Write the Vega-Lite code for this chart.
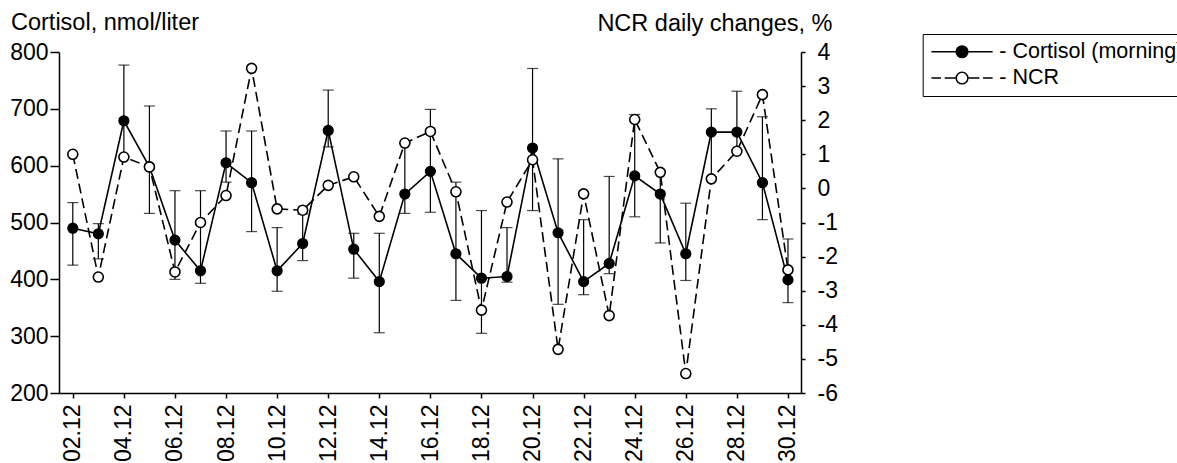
{
  "$schema": "https://vega.github.io/schema/vega-lite/v6.json",
  "width": 742,
  "height": 341,
  "autosize": {"type": "none"},
  "padding": {"left": 59, "top": 52, "right": 376, "bottom": 70},
  "background": "white",
  "config": {
    "view": {"stroke": null},
    "font": "Liberation Sans",
    "axis": {
      "grid": false,
      "domainColor": "black",
      "tickColor": "black",
      "labelColor": "black",
      "titleColor": "black",
      "labelFont": "Liberation Sans",
      "titleFont": "Liberation Sans",
      "labelFontSize": 23,
      "titleFontSize": 23.5,
      "titleFontWeight": "normal",
      "domainWidth": 1.5,
      "tickWidth": 1.5,
      "labelFlush": false,
      "labelOverlap": false
    }
  },
  "data": {
    "values": [
      {"day": 2, "cort": 490, "lo": 425, "hi": 535, "ncr": 1.0},
      {"day": 3, "cort": 480, "lo": 436, "hi": 498, "ncr": -2.6},
      {"day": 4, "cort": 679, "lo": 615, "hi": 777, "ncr": 0.92},
      {"day": 5, "cort": 598, "lo": 516, "hi": 705, "ncr": 0.63},
      {"day": 6, "cort": 469, "lo": 400, "hi": 556, "ncr": -2.45},
      {"day": 7, "cort": 415, "lo": 393, "hi": 556, "ncr": -1.0},
      {"day": 8, "cort": 605, "lo": 571, "hi": 661, "ncr": -0.21},
      {"day": 9, "cort": 570, "lo": 484, "hi": 661, "ncr": 3.52},
      {"day": 10, "cort": 415, "lo": 379, "hi": 491, "ncr": -0.6},
      {"day": 11, "cort": 463, "lo": 433, "hi": 515, "ncr": -0.64},
      {"day": 12, "cort": 662, "lo": 633, "hi": 733, "ncr": 0.09},
      {"day": 13, "cort": 453, "lo": 402, "hi": 481, "ncr": 0.34},
      {"day": 14, "cort": 396, "lo": 306, "hi": 481, "ncr": -0.82},
      {"day": 15, "cort": 550, "lo": 516, "hi": 640, "ncr": 1.33},
      {"day": 16, "cort": 590, "lo": 518, "hi": 699, "ncr": 1.67},
      {"day": 17, "cort": 445, "lo": 363, "hi": 571, "ncr": -0.1},
      {"day": 18, "cort": 402, "lo": 305, "hi": 521, "ncr": -3.57},
      {"day": 19, "cort": 405, "lo": 395, "hi": 491, "ncr": -0.4},
      {"day": 20, "cort": 631, "lo": 521, "hi": 771, "ncr": 0.84},
      {"day": 21, "cort": 482, "lo": 356, "hi": 612, "ncr": -4.72},
      {"day": 22, "cort": 396, "lo": 373, "hi": 505, "ncr": -0.16},
      {"day": 23, "cort": 428, "lo": 410, "hi": 581, "ncr": -3.73},
      {"day": 24, "cort": 582, "lo": 510, "hi": 690, "ncr": 2.02},
      {"day": 25, "cort": 550, "lo": 464, "hi": 590, "ncr": 0.47},
      {"day": 26, "cort": 445, "lo": 398, "hi": 534, "ncr": -5.43},
      {"day": 27, "cort": 659, "lo": 580, "hi": 700, "ncr": 0.28},
      {"day": 28, "cort": 659, "lo": 628, "hi": 731, "ncr": 1.09},
      {"day": 29, "cort": 570, "lo": 505, "hi": 686, "ncr": 2.75},
      {"day": 30, "cort": 399, "lo": 359, "hi": 471, "ncr": -2.39}
    ]
  },
  "encoding": {
    "x": {
      "field": "day",
      "type": "quantitative",
      "scale": {"domain": [1.46, 30.51], "nice": false, "zero": false},
      "axis": {
        "title": null,
        "values": [2, 4, 6, 8, 10, 12, 14, 16, 18, 20, 22, 24, 26, 28, 30],
        "labelExpr": "(datum.value < 10 ? '0' : '') + datum.value + '.12'",
        "labelAngle": -90,
        "tickSize": 5,
        "labelPadding": 6
      }
    }
  },
  "layer": [
    {
      "layer": [
        {
          "mark": {"type": "rule", "color": "black", "strokeWidth": 1.2},
          "encoding": {
            "y": {
              "field": "lo",
              "type": "quantitative",
              "title": "Cortisol, nmol/liter",
              "scale": {"domain": [200, 800], "nice": false, "zero": false},
              "axis": {
                "values": [200, 300, 400, 500, 600, 700, 800],
                "tickSize": 9,
                "labelPadding": 2,
                "titleAngle": 0,
                "titleAlign": "left",
                "titleBaseline": "alphabetic",
                "titleX": -48.5,
                "titleY": -22.7
              }
            },
            "y2": {"field": "hi"}
          }
        },
        {
          "mark": {"type": "tick", "orient": "horizontal", "size": 11, "thickness": 1.2, "color": "black"},
          "encoding": {"y": {"field": "lo", "type": "quantitative", "title": "Cortisol, nmol/liter"}}
        },
        {
          "mark": {"type": "tick", "orient": "horizontal", "size": 11, "thickness": 1.2, "color": "black"},
          "encoding": {"y": {"field": "hi", "type": "quantitative", "title": "Cortisol, nmol/liter"}}
        },
        {
          "mark": {"type": "line", "color": "black", "strokeWidth": 1.6},
          "encoding": {"y": {"field": "cort", "type": "quantitative", "title": "Cortisol, nmol/liter"}}
        },
        {
          "mark": {"type": "point", "filled": true, "size": 100, "stroke": "black", "strokeWidth": 1.2, "opacity": 1},
          "encoding": {
            "y": {"field": "cort", "type": "quantitative", "title": "Cortisol, nmol/liter"},
            "fill": {
              "datum": "Cortisol (morning)",
              "type": "nominal",
              "scale": {"domain": ["Cortisol (morning)", "NCR"], "range": ["black", "white"]},
              "legend": {
                "title": null,
                "orient": "none",
                "legendX": 863.7,
                "legendY": -18,
                "labelExpr": "'- ' + datum.label",
                "labelFont": "Liberation Sans",
                "labelFontSize": 21.5,
                "labelColor": "black",
                "labelLimit": 0,
                "symbolSize": 144,
                "symbolStrokeWidth": 1.5,
                "symbolStrokeColor": "black",
                "symbolOffset": 21.6,
                "labelOffset": 26.5,
                "rowPadding": 3.3,
                "padding": 7,
                "strokeColor": "black",
                "fillColor": "white",
                "encoding": {
                  "symbols": {
                    "shape": {"value": {"expr": "datum.value == 'NCR' ? 'M-5.1,0L-3.5,0M-2.9,0L-0.97,0M0.97,0L2.9,0M3.5,0L5.1,0M0.97,0C0.97,0.536 0.536,0.97 0,0.97C-0.536,0.97 -0.97,0.536 -0.97,0C-0.97,-0.536 -0.536,-0.97 0,-0.97C0.536,-0.97 0.97,-0.536 0.97,0Z' : 'M-5.1,0L5.1,0M0.97,0C0.97,0.536 0.536,0.97 0,0.97C-0.536,0.97 -0.97,0.536 -0.97,0C-0.97,-0.536 -0.536,-0.97 0,-0.97C0.536,-0.97 0.97,-0.536 0.97,0Z'"}},
                    "stroke": {"value": "black"},
                    "strokeWidth": {"value": 1.5}
                  }
                }
              }
            }
          }
        }
      ]
    },
    {
      "encoding": {
        "y": {
          "field": "ncr",
          "type": "quantitative",
          "title": "NCR daily changes, %",
          "scale": {"domain": [-6, 4], "nice": false, "zero": false},
          "axis": {
            "orient": "right",
            "values": [-6, -5, -4, -3, -2, -1, 0, 1, 2, 3, 4],
            "labelExpr": "datum.value < 0 ? '-' + abs(datum.value) : '' + datum.value",
            "tickSize": 4,
            "labelPadding": 12,
            "labelAlign": "left",
            "titleAngle": 0,
            "titleAlign": "right",
            "titleBaseline": "alphabetic",
            "titleX": 31,
            "titleY": -21.3
          }
        }
      },
      "layer": [
        {
          "mark": {"type": "line", "color": "black", "strokeWidth": 1.6, "strokeDash": [10, 5]}
        },
        {
          "mark": {"type": "point", "filled": true, "size": 100, "stroke": "black", "strokeWidth": 1.6, "opacity": 1},
          "encoding": {
            "fill": {"datum": "NCR", "type": "nominal"}
          }
        }
      ]
    }
  ],
  "resolve": {"scale": {"y": "independent"}}
}
